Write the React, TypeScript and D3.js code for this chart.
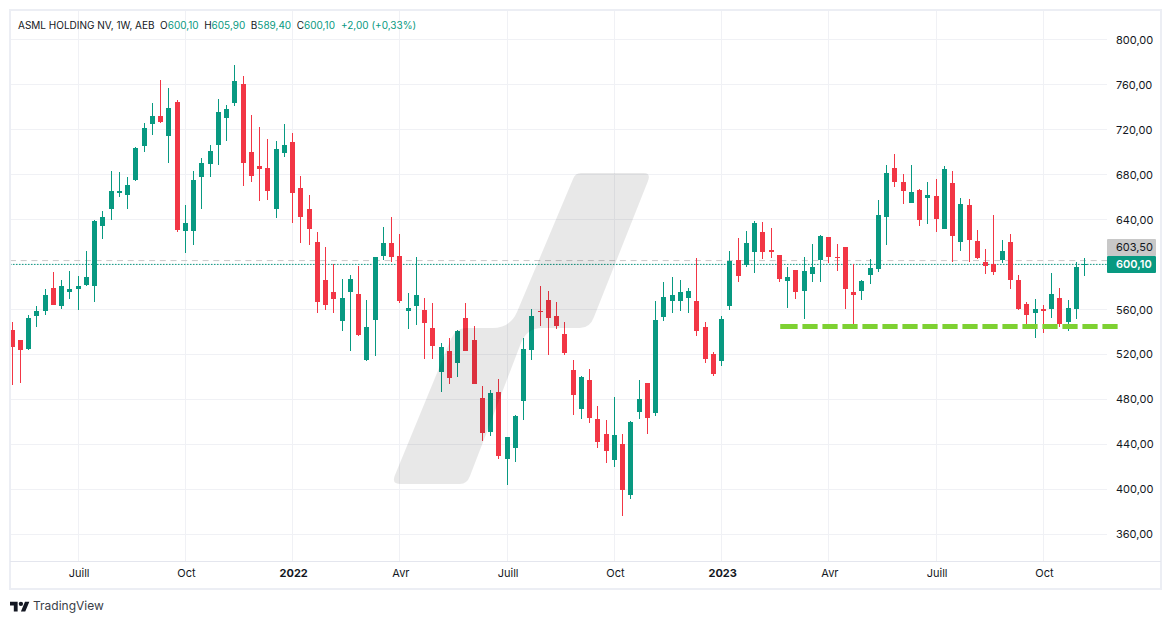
import React, { useEffect, useRef } from "react";
import * as d3 from "d3";

const opens = [541.6,532.7,525.0,554.3,558.8,578.9,563.2,575.7,578.3,581.9,581.0,634.3,649.5,663.7,661.9,675.2,705.5,725.0,731.8,714.4,744.3,629.9,629.9,677.9,689.5,706.4,730.4,743.7,760.3,699.8,687.4,685.6,649.5,699.2,708.7,667.8,649.2,619.9,586.1,575.4,549.9,575.7,573.6,515.3,550.8,607.7,619.0,607.4,558.8,563.3,559.4,543.4,504.6,523.0,512.6,552.3,532.7,481.2,451.2,486.5,427.2,437.0,478.8,524.1,558.5,568.3,554.0,538.0,506.1,471.7,497.2,462.5,449.2,426.3,440.3,395.2,469.0,494.5,468.1,553.5,567.7,567.7,570.4,567.4,544.3,520.3,514.4,563.3,603.8,599.7,611.3,628.8,612.7,608.3,585.2,594.9,576.6,591.7,604.1,624.3,606.5,615.4,575.4,576.6,590.8,596.1,642.4,685.6,673.2,654.8,666.1,658.9,660.7,631.7,672.3,620.1,652.7,620.7,602.0,600.3,603.8,619.8,586.0,564.7,557.0,560.3,560.6,570.0,549.0,560.6,600.1];
const highs = [548.7,532.7,554.9,562.9,578.1,593.2,586.1,594.1,589.6,611.8,639.4,647.4,682.9,682.1,677.6,704.3,725.6,743.4,763.8,756.7,746.6,652.7,682.9,694.5,706.1,746.9,741.6,777.2,767.4,732.7,722.1,711.4,709.6,724.7,716.7,678.5,661.6,628.8,615.4,600.3,587.0,590.5,598.5,568.3,606.5,633.2,642.1,627.0,574.5,606.5,570.1,565.6,530.1,534.5,541.6,565.6,545.2,491.9,488.3,498.1,446.5,466.1,534.5,560.3,580.7,576.3,566.5,548.7,514.9,500.7,506.9,474.0,461.6,482.0,449.2,460.7,497.2,494.5,567.4,584.3,588.7,586.1,579.0,605.6,548.7,522.1,554.0,611.9,623.4,629.6,638.5,637.6,632.3,608.3,597.6,595.5,606.5,618.1,626.1,624.3,618.1,615.4,600.3,586.1,604.7,657.2,688.3,698.1,680.3,688.3,666.9,673.2,675.8,687.4,682.9,658.9,658.0,630.5,613.6,643.8,621.6,626.9,590.5,566.5,569.1,563.8,592.3,578.9,568.3,602.0,605.9];
const lows = [493.0,494.8,524.1,544.6,555.2,564.1,560.6,569.5,559.7,581.0,566.8,622.8,639.7,660.1,649.5,674.4,700.1,715.2,725.9,690.4,629.0,610.3,617.5,649.5,677.9,688.6,709.9,741.0,669.9,673.5,656.6,657.5,641.5,695.7,637.0,619.3,617.5,557.1,559.7,557.1,541.0,523.3,536.6,514.4,518.8,604.2,602.4,565.9,542.8,546.4,516.2,516.2,486.8,493.9,500.2,523.3,493.9,443.2,447.7,427.2,404.2,424.6,461.9,515.3,545.5,519.7,542.8,519.7,466.3,462.8,459.2,437.0,423.7,420.1,376.6,391.7,462.8,449.5,465.5,549.9,557.1,558.8,557.1,536.6,512.6,501.0,509.9,559.7,584.6,597.9,592.6,604.8,605.9,584.6,561.5,569.5,551.7,584.6,584.6,601.5,594.4,560.6,546.9,568.6,582.8,593.5,617.5,669.0,653.9,654.8,634.4,636.1,629.0,631.7,602.3,612.1,602.6,605.0,591.7,590.5,601.1,578.3,559.7,545.4,534.8,539.2,552.6,544.5,541.0,551.7,589.4];
const closes = [526.8,524.1,552.3,558.5,572.7,564.1,580.7,578.1,580.7,588.7,638.5,642.1,665.2,665.2,670.5,703.4,721.2,731.8,726.5,738.9,630.8,636.7,674.9,690.1,700.7,735.4,738.1,762.9,690.4,678.8,685.0,665.5,702.5,706.1,663.7,642.4,631.7,566.8,564.1,569.5,570.1,587.0,537.5,544.3,606.5,619.0,606.8,567.7,561.2,572.8,548.1,527.7,526.5,499.3,540.8,523.3,493.9,450.4,485.6,429.9,446.5,465.2,524.7,554.0,557.9,552.6,545.5,521.5,484.1,499.8,463.7,442.3,434.3,448.3,399.7,459.8,480.3,463.7,550.5,570.9,572.8,575.4,576.3,541.0,516.2,502.8,551.4,603.0,589.9,619.0,636.8,611.3,611.3,587.2,588.7,575.7,594.1,597.6,625.2,606.8,605.9,578.4,572.7,585.2,596.7,643.8,681.2,673.5,665.5,664.3,639.7,661.6,640.6,684.7,625.4,653.6,621.9,605.9,598.8,593.4,611.8,586.3,560.6,555.2,560.3,558.8,573.6,547.2,561.1,598.1,600.1];

const priceTicks = [800, 760, 720, 680, 640, 600, 560, 520, 480, 440, 400, 360];
const timeTickWeeks = [8, 21, 34, 47, 60, 73, 86, 99, 112, 125];
const timeLabels = ["Juill", "Oct", "2022", "Avr", "Juill", "Oct", "2023", "Avr", "Juill", "Oct"];
const yearLabels = ["2022", "2023"];

const lastPrice = 600.1;
const prevLevel = 603.5;
const supportLevel = 544.9;
const supportWeeks = [93.1, 134.35];

const title = "ASML HOLDING NV, 1W, AEB";
const ohlcNames = ["O", "H", "B", "C"];
const ohlcValues = ["600,10", "605,90", "589,40", "600,10"];
const changeText = "+2,00 (+0,33%)";

const GREEN = "#089981";
const RED = "#F23645";
const GRID = "#f0f1f5";
const BORDER = "#eceef4";
const TEXT = "#131722";
const FONT = "Inter, sans-serif";

const fmt = d3.formatLocale({ decimal: ",", thousands: " ", grouping: [3], currency: ["", "€"] }).format(".2f");

const App = () => {
  const svgRef = useRef<SVGSVGElement | null>(null);

  useEffect(() => {
    const svg = d3.select(svgRef.current);
    svg.selectAll("*").remove();

    const width = 1171;
    const height = 624;
    const plotLeft = 10;
    const plotRight = 1107;
    const plotTop = 10;
    const plotBottom = 561;

    const x = d3.scaleLinear().domain([0, 130]).range([12.15, 1084.65]);
    const y = d3.scaleLinear().domain([360, 800]).range([534.3, 39.7]);
    const col = (i: number) => Math.floor(x(i));

    svg.append("rect").attr("width", width).attr("height", height).attr("fill", "#fff");

    svg
      .append("defs")
      .append("clipPath")
      .attr("id", "plot")
      .append("rect")
      .attr("x", plotLeft)
      .attr("y", plotTop)
      .attr("width", plotRight - plotLeft)
      .attr("height", plotBottom - plotTop);

    // Grid
    const grid = svg.append("g").attr("stroke", GRID).attr("shape-rendering", "crispEdges");
    grid
      .selectAll("line.h")
      .data(priceTicks)
      .join("line")
      .attr("class", "h")
      .attr("x1", plotLeft)
      .attr("x2", plotRight)
      .attr("y1", (d) => Math.floor(y(d)) + 0.5)
      .attr("y2", (d) => Math.floor(y(d)) + 0.5);
    grid
      .selectAll("line.v")
      .data(timeTickWeeks)
      .join("line")
      .attr("class", "v")
      .attr("x1", (d) => col(d) + 0.5)
      .attr("x2", (d) => col(d) + 0.5)
      .attr("y1", plotTop)
      .attr("y2", plotBottom);

    const plot = svg.append("g").attr("clip-path", "url(#plot)");

    // Price lines
    plot
      .append("line")
      .attr("x1", plotLeft)
      .attr("x2", plotRight)
      .attr("y1", y(prevLevel))
      .attr("y2", y(prevLevel))
      .attr("stroke", "#c8c8c8")
      .attr("stroke-dasharray", "6 4.7");
    plot
      .append("line")
      .attr("x1", plotLeft)
      .attr("x2", plotRight)
      .attr("y1", y(lastPrice))
      .attr("y2", y(lastPrice))
      .attr("stroke", GREEN)
      .attr("stroke-dasharray", "1.5 1.5");

    // Candles
    const color = (i: number) => (closes[i] >= opens[i] ? GREEN : RED);
    const candles = plot.append("g").attr("shape-rendering", "crispEdges");
    const weeks = d3.range(opens.length);
    candles
      .selectAll("rect.wick")
      .data(weeks)
      .join("rect")
      .attr("class", "wick")
      .attr("x", (i) => col(i))
      .attr("width", 1)
      .attr("y", (i) => y(highs[i]))
      .attr("height", (i) => y(lows[i]) - y(highs[i]))
      .attr("fill", color);
    candles
      .selectAll("rect.body")
      .data(weeks)
      .join("rect")
      .attr("class", "body")
      .attr("x", (i) => col(i) - 2)
      .attr("width", 5)
      .attr("y", (i) => y(Math.max(opens[i], closes[i])))
      .attr("height", (i) => Math.max(1, Math.abs(y(opens[i]) - y(closes[i]))))
      .attr("fill", color);

    // Support level drawn by hand on the chart
    svg
      .append("line")
      .attr("x1", x(supportWeeks[0]))
      .attr("x2", x(supportWeeks[1]))
      .attr("y1", y(supportLevel))
      .attr("y2", y(supportLevel))
      .attr("stroke", "#7ed132")
      .attr("stroke-width", 5)
      .attr("stroke-dasharray", "17.4 4.8 15.2 4.8 15.2 4.8 15.2 4.8 15.2 4.8 15.2 4.8 15.2 4.8 15.2 4.8 15.2 4.8 15.2 4.8 15.2 4.8 15.2 4.8 15.2 4.8 15.2 4.8 15.2 4.8 15.2 4.8 15.2 4.8");

    // Watermark sits over the candles
    svg
      .append("path")
      .attr(
        "d",
        "M573 179Q575 173 581 173L644 173Q651 173 648 181L594 317Q590 328 580 328L542 328Q527 328 521 343L470 476Q467 484 460 484L401 484Q391 484 395 475L451 339Q456 328 466 328L492 328Q510 328 517 312Z"
      )
      .attr("fill", "rgba(0,0,0,0.09)");

    // Frame
    svg
      .append("rect")
      .attr("x", 10)
      .attr("y", 10)
      .attr("width", 1151)
      .attr("height", 579)
      .attr("fill", "none")
      .attr("stroke", BORDER)
      .attr("stroke-width", 2);
    svg
      .append("line")
      .attr("x1", plotLeft)
      .attr("x2", 1161)
      .attr("y1", plotBottom + 0.5)
      .attr("y2", plotBottom + 0.5)
      .attr("stroke", "#e4e6ee");

    // Price axis
    const priceAxis = svg
      .append("g")
      .attr("transform", `translate(1109,0)`)
      .call(d3.axisRight(y).tickValues(priceTicks.filter((d) => d !== 600)).tickFormat((d) => fmt(d as number)).tickSize(0).tickPadding(7));
    priceAxis.select(".domain").remove();
    priceAxis.selectAll("text").attr("font-family", FONT).attr("font-size", 11).attr("fill", TEXT);

    // Time axis
    const timeAxis = svg
      .append("g")
      .attr("transform", `translate(0.5,569)`)
      .call(
        d3
          .axisBottom(x)
          .tickValues(timeTickWeeks)
          .tickFormat((_, i) => timeLabels[i])
          .tickSize(0)
          .tickPadding(0)
      );
    timeAxis.select(".domain").remove();
    timeAxis
      .selectAll("text")
      .attr("font-family", FONT)
      .attr("font-size", 11)
      .attr("fill", TEXT)
      .attr("font-weight", (_, i) => (yearLabels.includes(timeLabels[i]) ? 700 : 400));

    // Last value badges
    const badges = [
      { value: prevLevel, top: 239, fill: "#c8c8c8", ink: TEXT, weight: 400 },
      { value: lastPrice, top: 256, fill: GREEN, ink: "#fff", weight: 600 },
    ];
    badges.forEach((b) => {
      svg.append("rect").attr("x", 1107).attr("y", b.top).attr("width", 49).attr("height", 17).attr("rx", 1).attr("fill", b.fill);
      svg
        .append("text")
        .attr("x", 1116)
        .attr("y", b.top + 8.5)
        .attr("dy", "0.35em")
        .attr("font-family", FONT)
        .attr("font-size", 11)
        .attr("font-weight", b.weight)
        .attr("fill", b.ink)
        .text(fmt(b.value));
    });

    // Legend
    const legend = svg
      .append("text")
      .attr("x", 18)
      .attr("y", 25)
      .attr("dy", "0.35em")
      .attr("font-family", FONT)
      .attr("font-size", 10)
      .attr("fill", TEXT);
    legend.append("tspan").text(title);
    ohlcNames.forEach((name, i) => {
      legend.append("tspan").attr("dx", 5.5).text(name);
      legend.append("tspan").attr("fill", GREEN).text(ohlcValues[i]);
    });
    legend.append("tspan").attr("dx", 6).attr("fill", GREEN).text(changeText);

    // TradingView mark
    const brand = svg.append("g").attr("transform", "translate(10,599.5) scale(0.545)").attr("fill", "#131722");
    brand.append("path").attr("d", "M14 22H7V11H0V4h14v18zM28 22h-8l7.5-18h8L28 22z");
    brand.append("circle").attr("cx", 20).attr("cy", 8).attr("r", 4);
    svg
      .append("text")
      .attr("x", 33)
      .attr("y", 606)
      .attr("dy", "0.35em")
      .attr("font-family", FONT)
      .attr("font-size", 12)
      .attr("fill", "#3a3e48")
      .text("TradingView");
  }, []);

  return <svg ref={svgRef} width={1171} height={624} style={{ position: "absolute", left: 0, top: 0, display: "block" }}></svg>;
};

export default App;
